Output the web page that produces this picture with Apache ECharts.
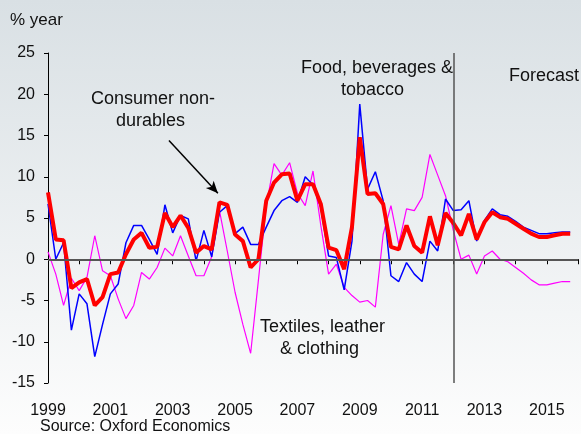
<!DOCTYPE html>
<html>
<head>
<meta charset="utf-8">
<script src="https://cdn.jsdelivr.net/npm/echarts@6/dist/echarts.min.js"></script>
<style>
  html, body { margin: 0; padding: 0; }
  #chart { width: 581px; height: 434px; }
</style>
</head>
<body>
<div id="chart"></div>
<script>
// quarterly, % year, 1999Q1 onwards
var startYear = 1999
var nonDurables = [8.1, 2.4, 2.3, -3.5, -2.8, -2.4, -5.6, -4.6, -1.8, -1.6, 0.6, 2.4, 3.2, 1.4, 1.5, 5.6,
  3.9, 5.3, 3.8, 0.8, 1.6, 1.2, 6.9, 6.6, 3.0, 2.2, -1.0, 0.0, 7.1, 9.3, 10.3, 10.4,
  7.1, 9.1, 9.1, 6.7, 1.4, 1.1, -1.2, 3.9, 14.8, 7.9, 8.0, 6.7, 1.5, 1.2, 4.1, 1.6,
  0.8, 5.2, 1.7, 5.6, 4.4, 2.9, 5.5, 2.4, 4.5, 5.7, 5.1, 4.9, 4.3, 3.7, 3.1, 2.7,
  2.7, 2.9, 3.1, 3.1]
var food = [6.7, 0.0, 2.0, -8.6, -4.2, -5.4, -11.8, -7.9, -4.2, -3.0, 2.0, 4.1, 4.1, 2.4, 0.6, 6.6,
  3.2, 5.3, 4.9, -0.2, 3.5, 0.3, 5.7, 6.5, 3.1, 3.9, 1.8, 1.8, 3.9, 5.9, 7.1, 7.6,
  6.9, 10.0, 9.0, 6.3, 0.4, 0.2, -3.7, 2.2, 18.8, 8.5, 10.6, 7.1, -2.0, -2.7, -0.4, -1.8,
  -2.7, 2.2, 1.0, 7.3, 5.9, 6.0, 7.1, 2.2, 4.7, 6.1, 5.4, 5.2, 4.6, 3.9, 3.5, 3.1,
  3.1, 3.2, 3.3, 3.3]
var textiles = [0.9, -1.8, -5.6, -2.3, -3.8, -2.2, 2.85, -1.4, -2.0, -4.8, -7.2, -5.6, -1.6, -2.4, -1.0, 1.35,
  0.4, 2.85, 0.4, -2.0, -2.0, 0.3, 5.9, 1.0, -4.0, -7.9, -11.4, -2.5, 6.5, 11.6, 10.2, 11.7,
  8.0, 6.5, 10.7, 4.1, -1.8, -0.6, -3.4, -4.4, -5.2, -5.0, -5.8, 3.0, 6.5, 1.8, 6.1, 5.9,
  7.5, 12.7, 10.2, 7.7, 3.5, 0.0, 0.5, -1.8, 0.4, 1.0, 0.0, -0.3, -1.0, -1.7, -2.5, -3.1,
  -3.1, -2.9, -2.7, -2.7]
var forecastStart = 2012
var yTicks = { min: -15, max: 25, step: 5 }

function toPoints(arr) {
  return arr.map(function (v, i) { return [startYear + i / 4, v] })
}

var chart = echarts.init(document.getElementById('chart'))
var txt = '#111'
var font = 'Liberation Sans, Arial, sans-serif'

chart.setOption({
  animation: false,
  backgroundColor: {
    type: 'linear', x: 0, y: 0, x2: 0, y2: 1,
    colorStops: [{ offset: 0, color: '#d9e0e4' }, { offset: 1, color: '#fdfdfd' }]
  },
  textStyle: { fontFamily: font },
  grid: { left: 48, right: -9, top: 53, bottom: 51 },
  xAxis: {
    type: 'value',
    min: startYear,
    max: 2016,
    interval: 1,
    axisLine: { lineStyle: { color: '#000', width: 1 } },
    axisTick: { show: true, length: 5, lineStyle: { color: '#000' } },
    splitLine: { show: false },
    axisLabel: {
      color: txt, fontSize: 16, margin: 20,
      formatter: function (v) { return (v - startYear) % 2 === 0 ? String(v) : '' }
    }
  },
  yAxis: {
    type: 'value',
    min: yTicks.min,
    max: yTicks.max,
    interval: yTicks.step,
    axisLine: { show: true, lineStyle: { color: '#000', width: 1 } },
    axisTick: { show: true, length: 4, lineStyle: { color: '#000' } },
    splitLine: { show: false },
    axisLabel: { color: txt, fontSize: 16, margin: 13 }
  },
  graphic: [
    { type: 'text', left: 10, top: 12, style: { text: '% year', fontSize: 17, fill: txt, fontFamily: font } },
    { type: 'text', left: 40, top: 419, style: { text: 'Source: Oxford Economics', fontSize: 16, fill: txt, fontFamily: font } },
    { type: 'text', left: 91, top: 88, style: { text: 'Consumer non-\n     durables', fontSize: 18, lineHeight: 22, fill: txt, fontFamily: font } },
    { type: 'text', left: 301, top: 57, style: { text: 'Food, beverages &\n        tobacco', fontSize: 18, lineHeight: 22, fill: txt, fontFamily: font } },
    { type: 'text', left: 509, top: 67, style: { text: 'Forecast', fontSize: 18, fill: txt, fontFamily: font } },
    { type: 'text', left: 260, top: 316, style: { text: 'Textiles, leather\n    & clothing', fontSize: 18, lineHeight: 22, fill: txt, fontFamily: font } }
  ],
  series: [
    {
      name: 'Textiles, leather & clothing',
      type: 'line',
      data: toPoints(textiles),
      showSymbol: false,
      lineStyle: { color: '#ff00ff', width: 1.2 },
      z: 2
    },
    {
      name: 'Food, beverages & tobacco',
      type: 'line',
      data: toPoints(food),
      showSymbol: false,
      lineStyle: { color: '#0000ff', width: 1.5 },
      z: 3
    },
    {
      name: 'Consumer non-durables',
      type: 'line',
      data: toPoints(nonDurables),
      showSymbol: false,
      lineStyle: { color: '#ff0000', width: 4 },
      z: 4,
      markLine: {
        silent: true,
        symbol: ['none', 'none'],
        label: { show: false },
        data: [
          { yAxis: 0, lineStyle: { color: '#555', width: 2, type: 'solid' } },
          { xAxis: forecastStart, lineStyle: { color: '#555', width: 1.5, type: 'solid' } },
          [
            { coord: [2002.88, 14.4], symbol: 'none' },
            { coord: [2004.45, 8.0], symbol: 'arrow', symbolSize: [8, 12], lineStyle: { color: '#000', width: 1.5, type: 'solid' } }
          ]
        ]
      }
    }
  ]
})
</script>
</body>
</html>
